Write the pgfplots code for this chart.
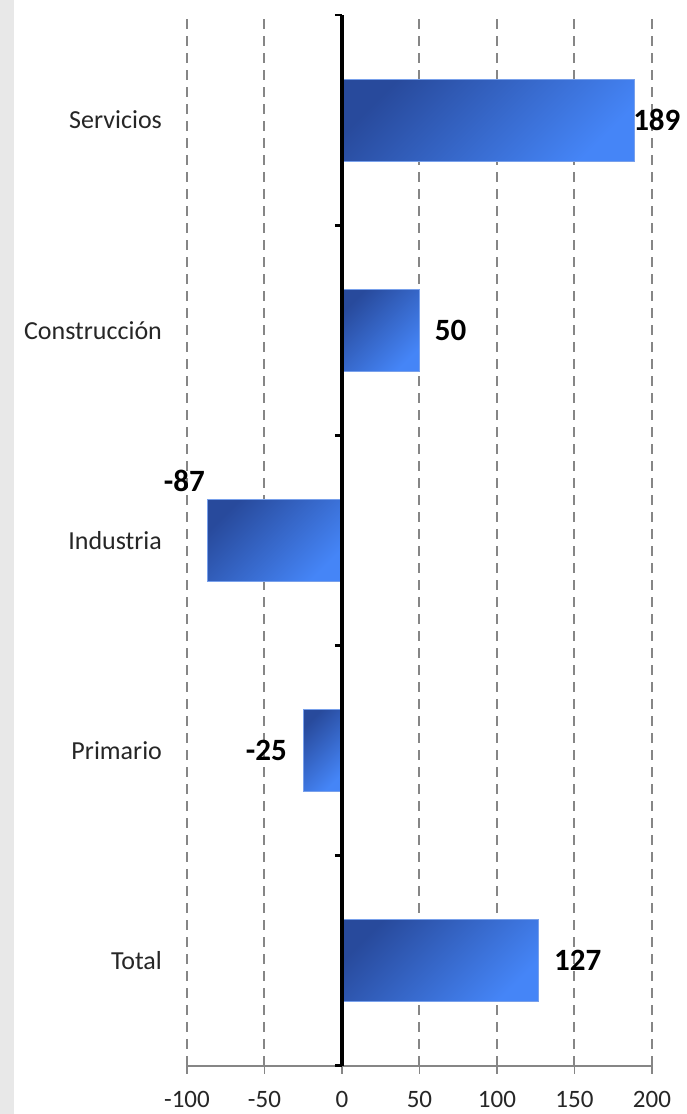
\documentclass[border=0pt]{standalone}
\usepackage{fontspec}
\setmainfont{Carlito}
\usepackage{pgfplots}
\pgfplotsset{compat=1.18}
\usetikzlibrary{backgrounds}

\definecolor{bardark}{RGB}{40,74,156}
\definecolor{barlight}{RGB}{69,133,247}
\definecolor{baredge}{RGB}{120,160,235}
\definecolor{gridgray}{RGB}{134,134,134}
\definecolor{stripgray}{RGB}{232,232,232}

% one \addplot per bar so that each bar gets its own gradient
\pgfplotsset{
  barstyle/.style={
    draw=baredge, line width=0.4pt,
    top color=bardark, bottom color=barlight, shading angle=45,
    bar shift=0pt, nodes near coords,
  },
}

\begin{document}
\begin{tikzpicture}
\begin{axis}[
    name=ax,
    scale only axis,
    width=232.5pt, height=525.5pt,
    xbar, bar width=41pt,
    xmin=-100, xmax=200,
    ymin=-0.5, ymax=4.5,
    xtick={-100,-50,0,50,100,150,200},
    ytick={0,1,2,3,4},
    yticklabels={Total,Primario,Industria,Construcción,Servicios},
    axis x line*=bottom,
    axis y line*=left,
    y axis line style={draw=none},
    ytick style={draw=none},
    x axis line style={gridgray, line width=0.75pt},
    xtick style={gridgray, line width=0.75pt},
    tick align=outside,
    major tick length=4pt,
    xmajorgrids,
    major grid style={gridgray, dash pattern=on 5pt off 3.5pt, line width=1pt},
    ticklabel style={font=\fontsize{12.5}{14}\selectfont, text=black!85},
    yticklabel style={font=\fontsize{13}{15}\selectfont, xshift=-5pt},
    xticklabel style={yshift=-5pt},
    /pgf/number format/assume math mode=true,
    nodes near coords style={font=\fontsize{15.5}{17}\selectfont\bfseries, text=black, inner sep=0pt},
]
\addplot[barstyle, nodes near coords style={anchor=west, xshift=7.5pt}]
  coordinates {(127,0)};
\addplot[barstyle, nodes near coords style={anchor=east, xshift=-8pt}]
  coordinates {(-25,1)};
\addplot[barstyle, nodes near coords style={anchor=south east, xshift=-1pt, yshift=24pt}]
  coordinates {(-87,2)};
\addplot[barstyle, nodes near coords style={anchor=west, xshift=7.5pt}]
  coordinates {(50,3)};
\addplot[barstyle, nodes near coords style={anchor=west, xshift=-1pt}]
  coordinates {(189,4)};
\end{axis}

% zero line with category boundary ticks
\begin{axis}[
    at={(ax.south west)}, anchor=south west,
    scale only axis,
    width=232.5pt, height=525.5pt,
    xmin=-100, xmax=200,
    ymin=-0.5, ymax=4.5,
    axis x line=none,
    axis y line*=middle,
    ytick={-0.5,0.5,1.5,2.5,3.5,4.5},
    yticklabels={},
    y axis line style={black, line width=1.6pt},
    ytick style={black, line width=1.4pt},
    tick align=outside,
    major tick length=3.5pt,
]
\end{axis}

\path[use as bounding box] ([xshift=-93.5pt,yshift=-24pt]ax.south west)
  rectangle ([xshift=17.5pt,yshift=7.5pt]ax.north east);
\begin{scope}[on background layer]
\fill[white] ([xshift=-93.5pt,yshift=-24pt]ax.south west)
  rectangle ([xshift=17.5pt,yshift=7.5pt]ax.north east);
\fill[stripgray] ([xshift=-93.5pt,yshift=-24pt]ax.south west)
  rectangle ([xshift=-86.5pt,yshift=7.5pt]ax.north west);
\end{scope}
\end{tikzpicture}
\end{document}
